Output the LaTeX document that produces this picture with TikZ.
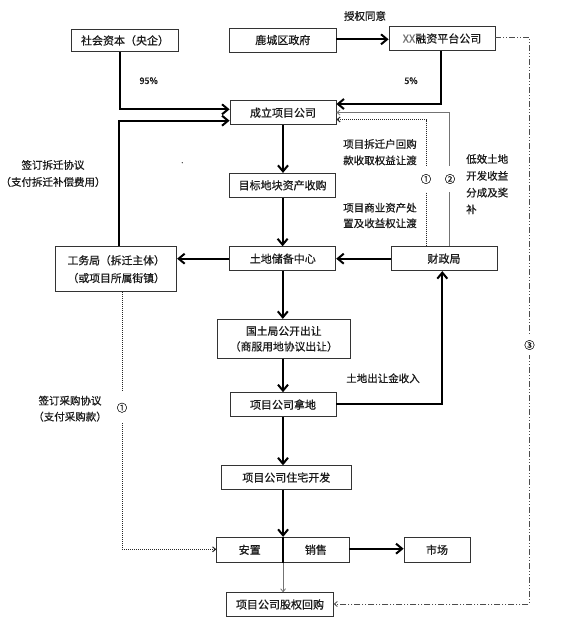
\documentclass[tikz,border=0pt]{standalone}
\usepackage{fontspec}
\setmainfont{Noto Sans CJK SC}[FakeBold=0.6]
\usetikzlibrary{arrows.meta}
\definecolor{txt}{HTML}{1A1A1A}
\definecolor{boxc}{HTML}{333333}
\begin{document}
\begin{tikzpicture}[x=1pt,y=-1pt,
  box/.style={draw=boxc, line width=0.8pt, rectangle, inner sep=0pt, text=txt, align=center,
    font=\fontsize{11}{17}\selectfont},
  lbl/.style={inner sep=0pt, text=txt, align=center, font=\fontsize{10.5}{16.4}\selectfont},
  flow/.style={line width=2pt, draw=black, -{Straight Barb[length=6pt,width=10pt]}},
  flowline/.style={line width=2pt, draw=black},
  dotline/.style={line width=1pt, draw=black!85, dash pattern=on 1pt off 1pt},
  smalltip/.style={-{Straight Barb[length=3pt,width=5pt]}},
  thinline/.style={line width=0.8pt, draw=black!55},
  dashdot/.style={line width=0.8pt, draw=black!70, dash pattern=on 6pt off 2pt on 1pt off 2pt on 1pt off 2pt},
  circnum/.style={inner sep=0pt, fill=white, text=txt, font=\fontsize{10.5}{12}\selectfont}
]
\useasboundingbox (0,0) rectangle (579,625);
\fill[white] (0,0) rectangle (579,625);

% boxes
\node[box, minimum width=106.6pt, minimum height=22.4pt] (sh) at (125,40.5) {社会资本（央企）};
\node[box, minimum width=106.5pt, minimum height=24pt] (lc) at (282.8,40) {鹿城区政府};
\node[box, minimum width=106pt, minimum height=23.6pt] (xx) at (442,38.5) {\textcolor{black!55}{XX}融资平台公司};
\node[box, minimum width=106pt, minimum height=24pt] (cl) at (283,112.7) {成立项目公司};
\node[box, minimum width=106pt, minimum height=24pt] (mb) at (282.6,185.3) {目标地块资产收购};
\node[box, minimum width=106pt, minimum height=24pt] (td) at (282.8,258.7) {土地储备中心};
\node[box, minimum width=121pt, minimum height=45pt, font=\fontsize{10.8}{17.7}\selectfont] (gw) at (116.2,269.2) {工务局（拆迁主体）\\（或项目所属街镇）};
\node[box, minimum width=106pt, minimum height=24pt] (cz) at (444,258.7) {财政局};
\node[box, minimum width=132.3pt, minimum height=39pt, font=\fontsize{10.8}{15.5}\selectfont] (gt) at (283.8,338.8) {国土局公开出让\\（商服用地协议出让）};
\node[box, minimum width=106pt, minimum height=24pt] (nd) at (283,404.6) {项目公司拿地};
\node[box, minimum width=129.3pt, minimum height=23.6pt] (zz) at (286.3,477.5) {项目公司住宅开发};
\node[box, minimum width=66pt, minimum height=25pt] (az) at (249.7,549.8) {安置};
\node[box, minimum width=66.3pt, minimum height=25pt] (xs) at (315.85,549.8) {销售};
\node[box, minimum width=66pt, minimum height=25pt] (sc) at (437,549.8) {市场};
\node[box, minimum width=106.6pt, minimum height=23.6pt] (hg) at (280,604.5) {项目公司股权回购};

% bend coordinates
\coordinate (p1) at (120,109.3);
\coordinate (p2) at (441,104);
\coordinate (p3) at (119,120.7);
\coordinate (p4) at (442.3,403.7);
\coordinate (p5) at (426,119.5);
\coordinate (p6) at (449,112.5);
\coordinate (p7) at (529.5,37.3);
\coordinate (p8) at (529.5,604);
\coordinate (p9) at (122,549.3);

% thick connectors
\draw[flow] (lc.east |- 0,39.3) -- (xx.west |- 0,39.3);
\draw[flow] (sh.south -| p1) -- (p1) -- (cl.west |- p1);
\draw[flow] (xx.south -| p2) -- (p2) -- (cl.east |- p2);
\draw[flow] (gw.north -| p3) -- (p3) -- (cl.west |- p3);
\draw[flow] (cl.south) -- (cl.south |- mb.north);
\draw[flow] (mb.south) -- (mb.south |- td.north);
\draw[flow] (td.west) -- (td.west -| gw.east);
\draw[flow] (cz.west) -- (td.east);
\draw[flow] (td.south) -- (td.south |- gt.north);
\draw[flow] (nd.north |- gt.south) -- (nd.north);
\draw[flow] (nd.east |- p4) -- (p4) -- (p4 |- cz.south);
\draw[flow] (nd.south) -- (nd.south |- zz.north);
\draw[flow] (az.north east |- zz.south) -- (az.north east);
\draw[flowline] (az.north east) -- (az.south east);
\draw[flow] (xs.east |- 0,548.7) -- (sc.west |- 0,548.7);

% thin / dotted / dash-dot connectors
\draw[thinline, smalltip] (az.south east) -- (az.south east |- hg.north);
\draw[dotline, smalltip] (cz.north -| p5) -- (p5) -- (cl.east |- p5);
\draw[thinline, smalltip] (cz.north -| p6) -- (p6) -- (cl.east |- p6);
\draw[dashdot, smalltip] (xx.east |- p7) -- (p7) -- (p8) -- (hg.east |- p8);

\node[circnum, minimum height=31pt] (c1b) at (122,407.7) {①};
\draw[dotline] (gw.south -| c1b) -- (c1b.north);
\draw[dotline, smalltip] (c1b.south) -- (p9) -- (az.west |- p9);

\node[circnum, minimum height=26pt] (c1) at (426,179) {①};
\node[circnum, minimum height=26pt] (c2) at (450,179) {②};
\node[circnum, minimum height=20pt] (c3) at (529.5,345) {③};

% labels
\node[lbl] (t1) at (365,16) {授权同意};
\node[lbl, font=\fontsize{9}{10}\selectfont] (t2) at (148.7,80.7) {95\%};
\node[lbl, font=\fontsize{9}{10}\selectfont] (t3) at (411,80.7) {5\%};
\node[lbl, font=\fontsize{10.5}{17}\selectfont] (t4) at (53,173.5) {签订拆迁协议\\（支付拆迁补偿费用）};
\node[circle, fill=txt, inner sep=0pt, minimum size=1.3pt] (dt) at (182.3,162.7) {};
\node[lbl] (t5) at (380,152.2) {项目拆迁户回购\\款收取权益让渡};
\node[lbl, font=\fontsize{10.5}{15.6}\selectfont] (t6) at (380,215.5) {项目商业资产处\\置及收益权让渡};
\node[lbl, align=left, anchor=west, font=\fontsize{10.5}{16.8}\selectfont] (t7) at (466,184.2) {低效土地\\开发收益\\分成及奖\\补};
\node[lbl] (t8) at (383,378.3) {土地出让金收入};
\node[lbl, font=\fontsize{10.5}{16}\selectfont] (t9) at (70,408.7) {签订采购协议\\（支付采购款）};
\end{tikzpicture}
\end{document}
